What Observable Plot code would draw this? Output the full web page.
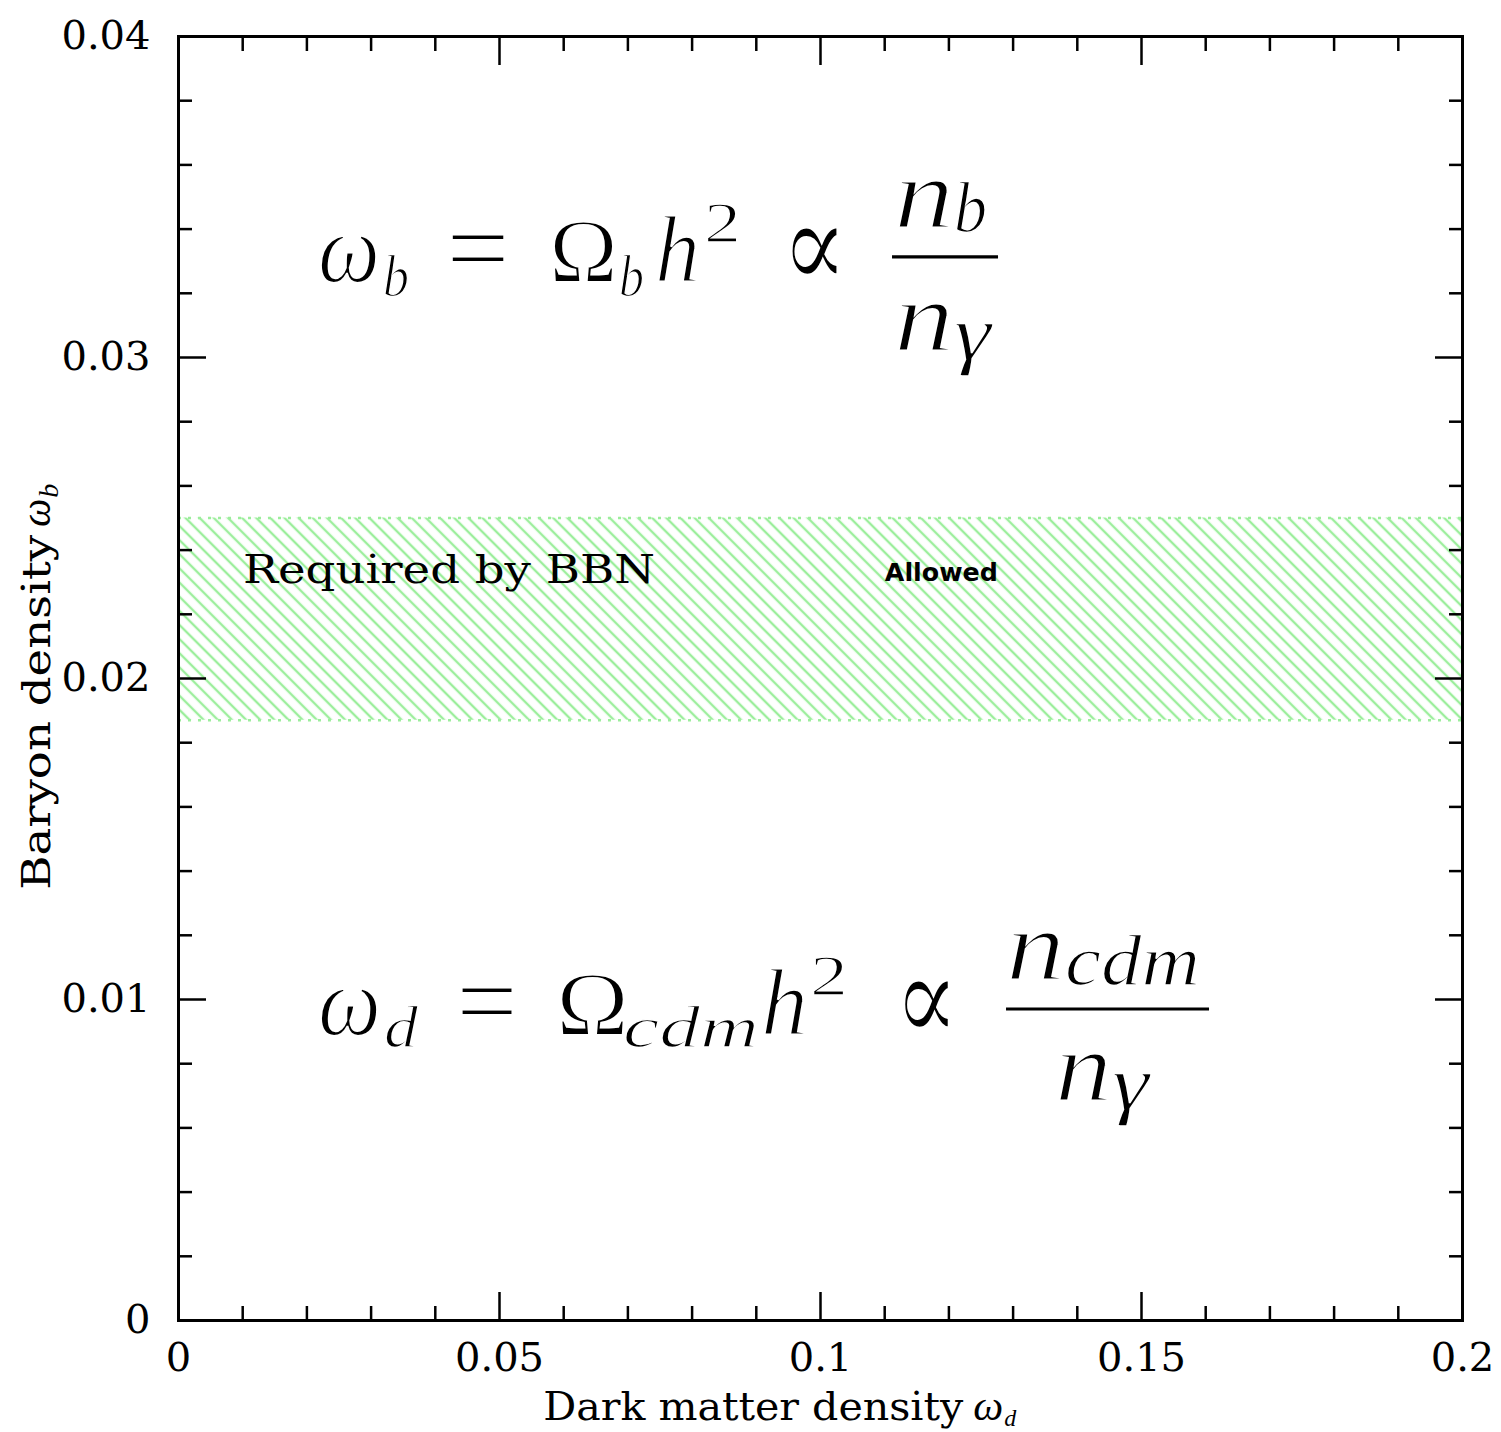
<!DOCTYPE html>
<html><head><meta charset="utf-8">
<script src="https://cdn.jsdelivr.net/npm/d3@7"></script>
<script src="https://cdn.jsdelivr.net/npm/@observablehq/plot@0.6"></script>
<style>html,body{margin:0;padding:0;background:#fff;overflow:hidden}#chart svg{display:block}</style>
</head><body><div id="chart"></div>
<script>
// ---- data ----
const xDomain = [0, 0.2];
const yDomain = [0, 0.04];
const xMajorTicks = [0, 0.05, 0.1, 0.15, 0.2];
const xTickLabels = ["0", "0.05", "0.1", "0.15", "0.2"];
const xMinorTicks = [0.01, 0.02, 0.03, 0.04, 0.06, 0.07, 0.08, 0.09, 0.11, 0.12, 0.13, 0.14, 0.16, 0.17, 0.18, 0.19];
const yMajorTicks = [0, 0.01, 0.02, 0.03, 0.04];
const yTickLabels = ["0", "0.01", "0.02", "0.03", "0.04"];
const yMinorTicks = [0.002, 0.004, 0.006, 0.008, 0.012, 0.014, 0.016, 0.018, 0.022, 0.024, 0.026, 0.028, 0.032, 0.034, 0.036, 0.038];
const bbnBand = [{x1: 0, x2: 0.2, y1: 0.0187, y2: 0.025}];
const bandEdges = [0.0187, 0.025];
const xLabel = "Dark matter density";
const yLabel = "Baryon density";
const bandLabel = "Required by BBN";
const allowedLabel = "Allowed";
// annotation anchors in data units
const bandLabelAt = [0.01012, 0.02296];
const allowedAt = [0.1101, 0.02302];
const formula1At = [0.02181, 0.03234];
const formula2At = [0.02181, 0.008879];

const green = "#9cee9c";

const plot = Plot.plot({
  width: 1501, height: 1432,
  marginLeft: 178, marginRight: 39, marginTop: 36, marginBottom: 112,
  x: {domain: xDomain, label: null},
  y: {domain: yDomain, label: null},
  style: {fontFamily: "'DejaVu Serif'", fontSize: "40px", color: "black", background: "white"},
  marks: [
    Plot.rect(bbnBand, {x1: "x1", x2: "x2", y1: "y1", y2: "y2", fill: "url(#bbnHatch)"}),
    Plot.ruleY(bandEdges, {stroke: green, strokeWidth: 2.5, strokeDasharray: "3,7"}),
    // minor ticks (inward)
    Plot.axisX({anchor: "bottom", ticks: xMinorTicks, tickSize: -14, tickFormat: () => "", strokeWidth: 2.5, label: null}),
    Plot.axisX({anchor: "top", ticks: xMinorTicks, tickSize: -14, tickFormat: () => "", strokeWidth: 2.5, label: null}),
    Plot.axisY({anchor: "left", ticks: yMinorTicks, tickSize: -14, tickFormat: () => "", strokeWidth: 2.5, label: null}),
    Plot.axisY({anchor: "right", ticks: yMinorTicks, tickSize: -14, tickFormat: () => "", strokeWidth: 2.5, label: null}),
    // major ticks (inward)
    Plot.axisX({anchor: "bottom", ticks: xMajorTicks, tickSize: -28, tickFormat: () => "", strokeWidth: 2.5, label: null}),
    Plot.axisX({anchor: "top", ticks: xMajorTicks, tickSize: -28, tickFormat: () => "", strokeWidth: 2.5, label: null}),
    Plot.axisY({anchor: "left", ticks: yMajorTicks, tickSize: -28, tickFormat: () => "", strokeWidth: 2.5, label: null}),
    Plot.axisY({anchor: "right", ticks: yMajorTicks, tickSize: -28, tickFormat: () => "", strokeWidth: 2.5, label: null}),
    // tick labels
    Plot.axisX({anchor: "bottom", ticks: xMajorTicks, tickSize: 0, tickPadding: 22, tickFormat: (d, i) => xTickLabels[i], label: null}),
    Plot.axisY({anchor: "left", ticks: yMajorTicks, tickSize: 0, tickPadding: 28, tickFormat: (d, i) => yTickLabels[i], label: null}),
    Plot.frame({strokeWidth: 3})
  ]
});
document.getElementById("chart").appendChild(plot);

// ---- hatch pattern, annotations ----
const svg = d3.select(plot);
const defs = svg.insert("defs", ":first-child");
const pat = defs.append("pattern").attr("id", "bbnHatch").attr("patternUnits", "userSpaceOnUse")
  .attr("width", 10).attr("height", 10).attr("patternTransform", "rotate(-45)");
pat.append("line").attr("x1", 5).attr("x2", 5).attr("y1", -1).attr("y2", 11)
  .attr("stroke", green).attr("stroke-width", 2.4);

const xs = plot.scale("x"), ys = plot.scale("y");
const g = svg.append("g").attr("class", "annotations").attr("text-anchor", "start");
const MATH = "Liberation Serif, DejaVu Serif, serif";

function piece(parent, x, y, p) {
  const t = parent.append("text").attr("x", x).attr("y", y).text(p.t)
    .attr("text-anchor", "start")
    .style("font-family", p.font || MATH).style("font-size", p.size + "px")
    .style("font-style", p.it ? "italic" : "normal").style("font-weight", p.bold ? "bold" : "normal")
    .attr("fill", "black");
  if (p.w) t.attr("textLength", p.w).attr("lengthAdjust", "spacingAndGlyphs");
  if (p.thin) t.attr("stroke", "white").attr("stroke-width", p.thin).attr("paint-order", "fill");
  return t;
}
function formula(at, pieces, bar) {
  const ax = xs.apply(at[0]), ay = ys.apply(at[1]);
  for (const p of pieces) piece(g, ax + p.dx, ay + (p.dy || 0), {thin: p.size >= 90 ? 2.2 : 1.4, ...p});
  g.append("line").attr("x1", ax + bar.dx1).attr("x2", ax + bar.dx2)
    .attr("y1", ay + bar.dy).attr("y2", ay + bar.dy).attr("stroke", "black").attr("stroke-width", 3.2);
}
const SYM = "DejaVu Serif";
formula(formula1At, [
  {t: "ω", dx: 0, size: 100, w: 62, it: 1},
  {t: "b", dx: 65, dy: 14, size: 60, w: 26, it: 1},
  {t: "=", dx: 128, dy: 3, size: 110, w: 64},
  {t: "Ω", dx: 231, size: 90, w: 69},
  {t: "b", dx: 301, dy: 14, size: 60, w: 25, it: 1},
  {t: "h", dx: 337, size: 96, w: 45, it: 1},
  {t: "2", dx: 386, dy: -40, size: 58, w: 37},
  {t: "∝", dx: 463, dy: 6, size: 124, w: 67, font: SYM},
  {t: "n", dx: 576, dy: -55, size: 100, w: 60, it: 1},
  {t: "b", dx: 636, dy: -50, size: 72, w: 33, it: 1},
  {t: "n", dx: 576, dy: 68, size: 100, w: 60, it: 1},
  {t: "γ", dx: 636, dy: 77, size: 78, w: 37, it: 1}
], {dx1: 574, dx2: 680, dy: -25});
formula(formula2At, [
  {t: "ω", dx: 0, size: 100, w: 63, it: 1},
  {t: "d", dx: 66, dy: 12, size: 60, w: 34, it: 1},
  {t: "=", dx: 138, dy: 3, size: 110, w: 62},
  {t: "Ω", dx: 238, size: 90, w: 73},
  {t: "cdm", dx: 305, dy: 12, size: 60, w: 136, it: 1},
  {t: "h", dx: 443, size: 96, w: 47, it: 1},
  {t: "2", dx: 492, dy: -40, size: 58, w: 38},
  {t: "∝", dx: 576, dy: 6, size: 124, w: 65, font: SYM},
  {t: "n", dx: 688, dy: -56, size: 100, w: 59, it: 1},
  {t: "cdm", dx: 747, dy: -50, size: 72, w: 135, it: 1},
  {t: "n", dx: 737, dy: 65, size: 100, w: 57, it: 1},
  {t: "γ", dx: 794, dy: 74, size: 78, w: 37, it: 1}
], {dx1: 688, dx2: 891, dy: -26});

// band labels
piece(g, xs.apply(bandLabelAt[0]), ys.apply(bandLabelAt[1]), {t: bandLabel, size: 40, w: 412, font: "DejaVu Serif"});
piece(g, xs.apply(allowedAt[0]), ys.apply(allowedAt[1]), {t: allowedLabel, size: 24, w: 113, bold: 1, font: "DejaVu Sans"});

// axis titles
const x0 = xs.apply(0), y0 = ys.apply(0);
const xl = xs.apply(0.0569), xb = y0 + 100;
piece(g, xl, xb, {t: xLabel, size: 40, w: 420, font: "DejaVu Serif"});
piece(g, xl + 430, xb, {t: "ω", size: 42, w: 30, it: 1});
piece(g, xl + 461, xb + 6, {t: "d", size: 24, w: 12, it: 1});

const yg = g.append("g").attr("transform", `translate(${x0 - 128},${ys.apply(0.0134)}) rotate(-90)`);
piece(yg, 0, 0, {t: yLabel, size: 40, w: 355, font: "DejaVu Serif"});
piece(yg, 363, 0, {t: "ω", size: 42, w: 28, it: 1});
piece(yg, 392, 8, {t: "b", size: 28, w: 14, it: 1});
</script>
</body></html>
